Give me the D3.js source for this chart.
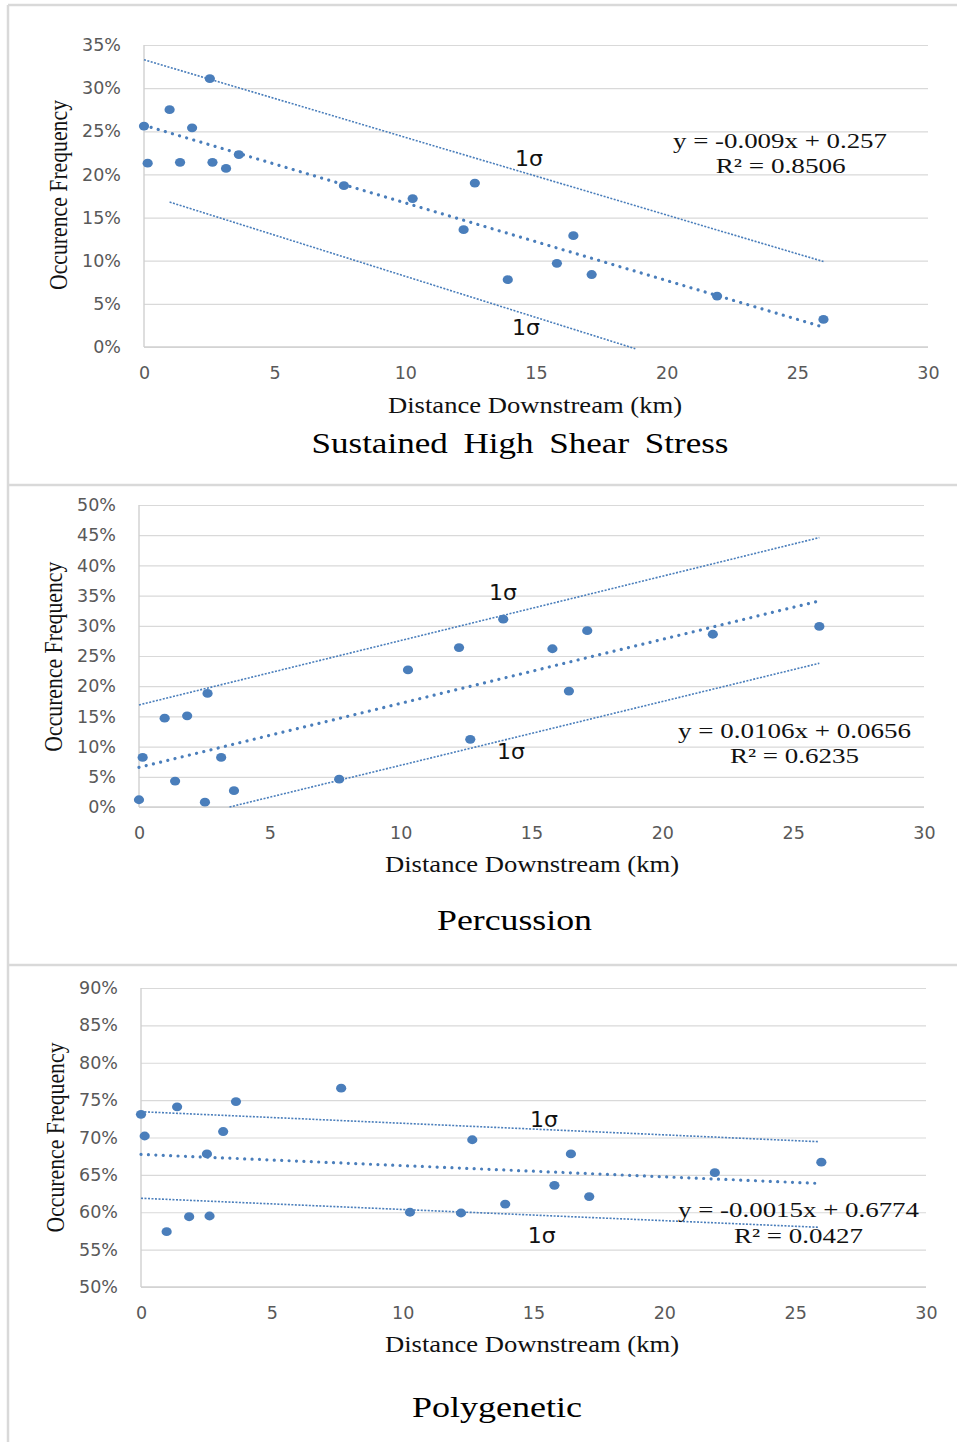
<!DOCTYPE html>
<html>
<head>
<meta charset="utf-8">
<script src="https://cdn.jsdelivr.net/npm/d3@7"></script>
<style>
  html, body { margin: 0; padding: 0; background: #ffffff; }
  svg { display: block; }
</style>
</head>
<body>
<svg id="chart" width="957" height="1442"></svg>
<script>
// Sampling sites along the river (km downstream)
const distanceKm = [0, 0.14, 0.98, 1.38, 1.84, 2.52, 2.62, 3.14, 3.63, 7.65,
                    10.28, 12.23, 12.66, 13.92, 15.8, 16.43, 17.13, 21.93, 26.0];

// Occurrence frequency at each site, one series per process
const shearFreq = [0.256, 0.213, 0.275, 0.214, 0.254, 0.311, 0.214, 0.207, 0.223, 0.187,
                   0.172, 0.136, 0.190, 0.078, 0.097, 0.129, 0.084, 0.059, 0.032];
const percussionFreq = [0.012, 0.082, 0.147, 0.043, 0.151, 0.008, 0.188, 0.082, 0.027, 0.046,
                        0.227, 0.264, 0.112, 0.311, 0.262, 0.192, 0.292, 0.286, 0.299];
const polygeneticFreq = [0.731, 0.702, 0.574, 0.741, 0.594, 0.678, 0.595, 0.708, 0.748, 0.766,
                         0.600, 0.599, 0.697, 0.611, 0.636, 0.678, 0.621, 0.653, 0.667];

// Linear fits (slope, intercept) and goodness of fit
const shearFit = [-0.009, 0.257];
const percussionFit = [0.0106, 0.0656];
const polygeneticFit = [-0.0015, 0.6774];
const fitRange = [0, 25.9];
const shearR2 = "0.8506";
const percussionR2 = "0.6235";
const polygeneticR2 = "0.0427";

// One-sigma envelope lines, as [km, frequency] end points
const shearSigmaUpper = [[0, 0.333], [26, 0.099]];
const shearSigmaLower = [[0.98, 0.168], [18.8, -0.002]];
const percussionSigmaUpper = [[0, 0.169], [26, 0.446]];
const percussionSigmaLower = [[3.46, 0], [26, 0.238]];
const polygeneticSigmaUpper = [[0, 0.7345], [25.9, 0.6944]];
const polygeneticSigmaLower = [[0, 0.6187], [25.9, 0.5799]];

// Axis domains and tick labels
const xDomain = [0, 30];
const xTicks = [0, 5, 10, 15, 20, 25, 30];
const shearYTicks = [0, 0.05, 0.10, 0.15, 0.20, 0.25, 0.30, 0.35];
const percussionYTicks = [0, 0.05, 0.10, 0.15, 0.20, 0.25, 0.30, 0.35, 0.40, 0.45, 0.50];
const polygeneticYTicks = [0.50, 0.55, 0.60, 0.65, 0.70, 0.75, 0.80, 0.85, 0.90];

const titles = ["Sustained High Shear Stress", "Percussion", "Polygenetic"];
const xTitle = "Distance Downstream (km)";
const yTitle = "Occurence Frequency";
const sigmaLabel = "1\u03c3";

const fmtEq = (s, b) => "y = " + s + "x + " + b;

const panels = [
  { title: titles[0], values: shearFreq, fit: shearFit, r2: shearR2,
    sigma: [shearSigmaUpper, shearSigmaLower], yTicks: shearYTicks,
    box: { left: 144, right: 928, top: 45, bottom: 347 },
    xTitleY: 412.7, xTitleX: 535, titleY: 453, titleX: 520, titleLen: 417,
    yTitleX: 66.5, yTitleY: 195,
    eq: { x: 673, y: 147.5, len: 214 }, r2Pos: { x: 715.7, y: 172.7, len: 130 },
    sigmaLabels: [{ x: 515, y: 165.7 }, { x: 512, y: 335 }] },
  { title: titles[1], values: percussionFreq, fit: percussionFit, r2: percussionR2,
    sigma: [percussionSigmaUpper, percussionSigmaLower], yTicks: percussionYTicks,
    box: { left: 139, right: 924, top: 505, bottom: 807 },
    xTitleY: 871.7, xTitleX: 532, titleY: 930, titleX: 514.5, titleLen: 155,
    yTitleX: 61.5, yTitleY: 656.7,
    eq: { x: 678, y: 737.5, len: 233 }, r2Pos: { x: 730, y: 762.7, len: 129 },
    sigmaLabels: [{ x: 489, y: 600 }, { x: 497, y: 759 }] },
  { title: titles[2], values: polygeneticFreq, fit: polygeneticFit, r2: polygeneticR2,
    sigma: [polygeneticSigmaUpper, polygeneticSigmaLower], yTicks: polygeneticYTicks,
    box: { left: 141, right: 926, top: 988, bottom: 1287 },
    xTitleY: 1352, xTitleX: 532, titleY: 1416.7, titleX: 497, titleLen: 170,
    yTitleX: 64, yTitleY: 1137.5,
    eq: { x: 678, y: 1216.7, len: 241 }, r2Pos: { x: 734, y: 1242.7, len: 129 },
    sigmaLabels: [{ x: 530, y: 1126.7 }, { x: 527.7, y: 1242.7 }] }
];

const blue = "#4a7ebb";
const serif = "'Liberation Serif', 'Times New Roman', serif";
const sans = "'DejaVu Sans', sans-serif";

const svg = d3.select("#chart");

// Frame around the three stacked charts
const frame = svg.append("g").attr("stroke", "#d9d9d9").attr("stroke-width", 2.5).attr("fill", "none");
frame.append("line").attr("x1", 8).attr("x2", 957).attr("y1", 5).attr("y2", 5);
frame.append("line").attr("x1", 8).attr("x2", 8).attr("y1", 5).attr("y2", 1442);
frame.append("line").attr("x1", 8).attr("x2", 957).attr("y1", 485).attr("y2", 485);
frame.append("line").attr("x1", 8).attr("x2", 957).attr("y1", 965).attr("y2", 965);

panels.forEach((p, i) => {
  const b = p.box;
  const yDom = [p.yTicks[0], p.yTicks[p.yTicks.length - 1]];
  const x = d3.scaleLinear().domain(xDomain).range([b.left, b.right]);
  const y = d3.scaleLinear().domain(yDom).range([b.bottom, b.top]);
  const g = svg.append("g").attr("class", "panel-" + i);

  // Horizontal gridlines with percent labels
  const yAxis = g.append("g")
    .attr("transform", `translate(${b.left},0)`)
    .call(d3.axisLeft(y).tickValues(p.yTicks).tickFormat(d3.format(".0%"))
      .tickSize(-(b.right - b.left)).tickPadding(23));
  yAxis.select(".domain").remove();
  yAxis.selectAll(".tick line").attr("stroke", "#d9d9d9").attr("stroke-width", 1.2);
  yAxis.selectAll(".tick text").attr("fill", "#595959")
    .style("font-family", sans).style("font-size", "17.5px");

  // Distance axis labels
  const xAxis = g.append("g")
    .attr("transform", `translate(0,${b.bottom})`)
    .call(d3.axisBottom(x).tickValues(xTicks).tickSize(0).tickPadding(20));
  xAxis.select(".domain").remove();
  xAxis.selectAll(".tick text").attr("fill", "#595959")
    .style("font-family", sans).style("font-size", "17.5px");

  // Plot area axis lines
  g.append("line").attr("x1", b.left).attr("x2", b.left).attr("y1", b.top).attr("y2", b.bottom)
    .attr("stroke", "#d0d0d0").attr("stroke-width", 1.4);
  g.append("line").attr("x1", b.left).attr("x2", b.right).attr("y1", b.bottom).attr("y2", b.bottom)
    .attr("stroke", "#d0d0d0").attr("stroke-width", 1.4);

  const line = d3.line().x(d => x(d[0])).y(d => y(d[1]));

  // One-sigma envelope
  p.sigma.forEach(seg => {
    g.append("path").attr("d", line(seg)).attr("fill", "none")
      .attr("stroke", blue).attr("stroke-width", 1.6).attr("stroke-dasharray", "2,1.5");
  });

  // Linear trendline from the fitted equation
  const fitPts = fitRange.map(k => [k, p.fit[0] * k + p.fit[1]]);
  g.append("path").attr("d", line(fitPts)).attr("fill", "none")
    .attr("stroke", blue).attr("stroke-width", 3.2)
    .attr("stroke-linecap", "round").attr("stroke-dasharray", "0.01,7.4");

  // Observations
  g.selectAll("ellipse.pt").data(distanceKm.map((k, j) => [k, p.values[j]]))
    .join("ellipse").attr("class", "pt")
    .attr("cx", d => x(d[0])).attr("cy", d => y(d[1]))
    .attr("rx", 5.1).attr("ry", 4.4).attr("fill", blue);

  // Sigma labels
  p.sigmaLabels.forEach(s => {
    g.append("text").attr("x", s.x).attr("y", s.y).text(sigmaLabel)
      .attr("fill", "#111").style("font-family", sans).style("font-size", "22px");
  });

  // Trendline equation and R²
  g.append("text").attr("x", p.eq.x).attr("y", p.eq.y)
    .attr("textLength", p.eq.len).attr("lengthAdjust", "spacingAndGlyphs")
    .text(fmtEq(p.fit[0], p.fit[1])).attr("fill", "#111")
    .style("font-family", serif).style("font-size", "22px");
  g.append("text").attr("x", p.r2Pos.x).attr("y", p.r2Pos.y)
    .attr("textLength", p.r2Pos.len).attr("lengthAdjust", "spacingAndGlyphs")
    .text("R\u00b2 = " + p.r2).attr("fill", "#111")
    .style("font-family", serif).style("font-size", "22px");

  // Axis titles
  g.append("text").attr("x", p.xTitleX).attr("y", p.xTitleY).attr("text-anchor", "middle")
    .attr("textLength", 294).attr("lengthAdjust", "spacingAndGlyphs")
    .text(xTitle).attr("fill", "#111")
    .style("font-family", serif).style("font-size", "24px");
  g.append("text")
    .attr("transform", `translate(${p.yTitleX},${p.yTitleY}) rotate(-90)`)
    .attr("text-anchor", "middle")
    .attr("textLength", 190).attr("lengthAdjust", "spacingAndGlyphs")
    .text(yTitle).attr("fill", "#111")
    .style("font-family", serif).style("font-size", "25px");

  // Chart title
  g.append("text").attr("x", p.titleX).attr("y", p.titleY).attr("text-anchor", "middle")
    .attr("textLength", p.titleLen).attr("lengthAdjust", "spacingAndGlyphs")
    .style("word-spacing", "6px")
    .text(p.title).attr("fill", "#000")
    .style("font-family", serif).style("font-size", "30px");
});
</script>
</body>
</html>
